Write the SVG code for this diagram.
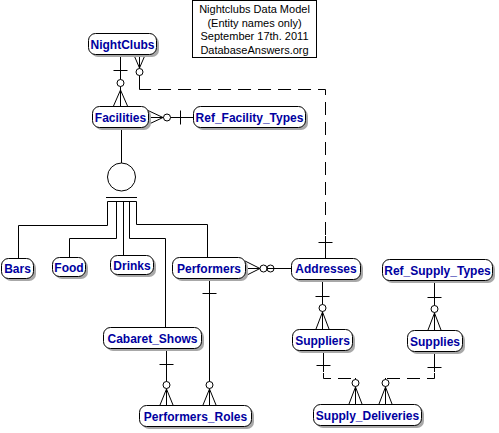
<svg xmlns="http://www.w3.org/2000/svg" width="499" height="433" viewBox="0 0 499 433">
<style>
.sh{fill:#a8a8a8;stroke:none}
.bx{fill:#fff;stroke:#000;stroke-width:1}
.t{font-family:"Liberation Sans",Arial,sans-serif;font-size:12px;font-weight:bold;fill:#0000a0;text-anchor:middle}
.ti{font-family:"Liberation Sans",Arial,sans-serif;font-size:11px;fill:#000;text-anchor:middle}
.c line,.c path,.c circle{fill:none;stroke:#000;stroke-width:1}
.c .d{stroke-dasharray:13,7}
</style>
<rect width="499" height="433" fill="#fff"/>
<g id="title">
<rect x="192.5" y="0.5" width="124" height="57" fill="#fff" stroke="#000"/>
<text class="ti" x="254.5" y="13">Nightclubs Data Model</text>
<text class="ti" x="254.5" y="27">(Entity names only)</text>
<text class="ti" x="254.5" y="40">September 17th. 2011</text>
<text class="ti" x="254.5" y="54">DatabaseAnswers.org</text>
</g>
<g id="connectors" class="c">
<line x1="120.5" y1="54" x2="120.5" y2="79.5"/>
<line x1="113.5" y1="70.5" x2="127.5" y2="70.5"/>
<circle cx="120.5" cy="83" r="3.5"/>
<line x1="120.5" y1="86.5" x2="120.5" y2="106"/>
<line x1="120.5" y1="90" x2="113.5" y2="106"/>
<line x1="120.5" y1="90" x2="127.5" y2="106"/>
<line x1="133.5" y1="54" x2="139.5" y2="68"/>
<line x1="145.5" y1="54" x2="139.5" y2="68"/>
<line x1="139.5" y1="54" x2="139.5" y2="68.5"/>
<circle cx="139.5" cy="72" r="3.5"/>
<path d="M139.5,75.5 V89.5 H151"/>
<path class="d" d="M158,89.5 H325.5 V236"/>
<line x1="325.5" y1="236" x2="325.5" y2="258"/>
<line x1="318.5" y1="242.5" x2="332.5" y2="242.5"/>
<line x1="148" y1="110.5" x2="163" y2="117.5"/>
<line x1="148" y1="124.5" x2="163" y2="117.5"/>
<line x1="148" y1="117.5" x2="163.5" y2="117.5"/>
<circle cx="167" cy="117.5" r="3.5"/>
<line x1="170.5" y1="117.5" x2="193" y2="117.5"/>
<line x1="180.5" y1="110.5" x2="180.5" y2="124.5"/>
<line x1="121.5" y1="127" x2="121.5" y2="163"/>
<circle cx="121.5" cy="177" r="14"/>
<line x1="106" y1="197.5" x2="137" y2="197.5"/>
<line x1="107.5" y1="201.5" x2="136.5" y2="201.5"/>
<path d="M107.5,201.5 V225.5 H18.5 V258"/>
<path d="M116.5,201.5 V238.5 H69.5 V257"/>
<path d="M123.5,201.5 V255"/>
<path d="M129.5,201.5 V238.5 H165.5 V327"/>
<path d="M136.5,201.5 V224.5 H207.5 V257"/>
<line x1="245" y1="261" x2="260" y2="268.5"/>
<line x1="245" y1="276" x2="260" y2="268.5"/>
<line x1="245" y1="268.5" x2="260" y2="268.5"/>
<circle cx="263.5" cy="268.5" r="3.5"/>
<line x1="267" y1="268.5" x2="291" y2="268.5"/>
<circle cx="270.5" cy="268.5" r="3.5"/>
<line x1="209.5" y1="279" x2="209.5" y2="381.5"/>
<line x1="202.5" y1="293.5" x2="216.5" y2="293.5"/>
<circle cx="209.5" cy="385" r="3.5"/>
<line x1="209.5" y1="388.5" x2="209.5" y2="405"/>
<line x1="209.5" y1="389" x2="203" y2="405"/>
<line x1="209.5" y1="389" x2="216" y2="405"/>
<line x1="166.5" y1="348" x2="166.5" y2="381.5"/>
<line x1="159.5" y1="364.5" x2="173.5" y2="364.5"/>
<circle cx="166.5" cy="385" r="3.5"/>
<line x1="166.5" y1="388.5" x2="166.5" y2="405"/>
<line x1="166.5" y1="389" x2="160" y2="405"/>
<line x1="166.5" y1="389" x2="173" y2="405"/>
<line x1="322.5" y1="279" x2="322.5" y2="304.5"/>
<line x1="315.5" y1="296.5" x2="329.5" y2="296.5"/>
<circle cx="322.5" cy="308" r="3.5"/>
<line x1="322.5" y1="311.5" x2="322.5" y2="329"/>
<line x1="322.5" y1="312" x2="316" y2="329"/>
<line x1="322.5" y1="312" x2="329" y2="329"/>
<line x1="434.5" y1="280" x2="434.5" y2="305.5"/>
<line x1="427.5" y1="297.5" x2="441.5" y2="297.5"/>
<circle cx="434.5" cy="309" r="3.5"/>
<line x1="434.5" y1="312.5" x2="434.5" y2="330"/>
<line x1="434.5" y1="313" x2="428" y2="330"/>
<line x1="434.5" y1="313" x2="441" y2="330"/>
<line x1="323.5" y1="350" x2="323.5" y2="372"/>
<line x1="316.5" y1="365.5" x2="330.5" y2="365.5"/>
<path class="d" d="M323.5,373 V378.5 H355.5"/>
<line x1="355.5" y1="378" x2="355.5" y2="379.5"/>
<circle cx="355.5" cy="383" r="3.5"/>
<line x1="355.5" y1="386.5" x2="355.5" y2="404"/>
<line x1="355.5" y1="387" x2="349" y2="404"/>
<line x1="355.5" y1="387" x2="362" y2="404"/>
<line x1="434.5" y1="351" x2="434.5" y2="372"/>
<line x1="427.5" y1="367.5" x2="441.5" y2="367.5"/>
<path class="d" d="M434.5,373 V378.5 H385.5"/>
<line x1="385.5" y1="378" x2="385.5" y2="379.5"/>
<circle cx="385.5" cy="383" r="3.5"/>
<line x1="385.5" y1="386.5" x2="385.5" y2="404"/>
<line x1="385.5" y1="387" x2="379" y2="404"/>
<line x1="385.5" y1="387" x2="392" y2="404"/>
</g>
<g id="NightClubs"><rect class="sh" x="91" y="36" width="68" height="21" rx="7"/><rect class="bx" x="88.5" y="33.5" width="68" height="21" rx="7"/><text class="t" x="122.5" y="48.5">NightClubs</text></g>
<g id="Facilities"><rect class="sh" x="95" y="109" width="56" height="21" rx="7"/><rect class="bx" x="92.5" y="106.5" width="56" height="21" rx="7"/><text class="t" x="120.5" y="121.5">Facilities</text></g>
<g id="Ref_Facility_Types"><rect class="sh" x="196" y="109" width="112" height="21" rx="7"/><rect class="bx" x="193.5" y="106.5" width="112" height="21" rx="7"/><text class="t" x="249.5" y="121.5">Ref_Facility_Types</text></g>
<g id="Bars"><rect class="sh" x="4" y="261" width="32" height="20" rx="7"/><rect class="bx" x="1.5" y="258.5" width="32" height="20" rx="7"/><text class="t" x="17.5" y="273">Bars</text></g>
<g id="Food"><rect class="sh" x="55" y="260" width="33" height="19" rx="7"/><rect class="bx" x="52.5" y="257.5" width="33" height="19" rx="7"/><text class="t" x="69" y="271.5">Food</text></g>
<g id="Drinks"><rect class="sh" x="113" y="258" width="43" height="19" rx="7"/><rect class="bx" x="110.5" y="255.5" width="43" height="19" rx="7"/><text class="t" x="132" y="269.5">Drinks</text></g>
<g id="Performers"><rect class="sh" x="175" y="260" width="73" height="21" rx="7"/><rect class="bx" x="172.5" y="257.5" width="73" height="21" rx="7"/><text class="t" x="209" y="272.5">Performers</text></g>
<g id="Addresses"><rect class="sh" x="294" y="261" width="69" height="21" rx="7"/><rect class="bx" x="291.5" y="258.5" width="69" height="21" rx="7"/><text class="t" x="326" y="273">Addresses</text></g>
<g id="Ref_Supply_Types"><rect class="sh" x="385" y="262" width="110" height="21" rx="7"/><rect class="bx" x="382.5" y="259.5" width="110" height="21" rx="7"/><text class="t" x="437.5" y="274.5">Ref_Supply_Types</text></g>
<g id="Cabaret_Shows"><rect class="sh" x="106" y="330" width="98" height="21" rx="7"/><rect class="bx" x="103.5" y="327.5" width="98" height="21" rx="7"/><text class="t" x="152.5" y="342.5">Cabaret_Shows</text></g>
<g id="Performers_Roles"><rect class="sh" x="142" y="408" width="112" height="21" rx="7"/><rect class="bx" x="139.5" y="405.5" width="112" height="21" rx="7"/><text class="t" x="195.5" y="420.5">Performers_Roles</text></g>
<g id="Suppliers"><rect class="sh" x="295" y="332" width="60" height="21" rx="7"/><rect class="bx" x="292.5" y="329.5" width="60" height="21" rx="7"/><text class="t" x="322.5" y="344.5">Suppliers</text></g>
<g id="Supplies"><rect class="sh" x="410" y="333" width="55" height="21" rx="7"/><rect class="bx" x="407.5" y="330.5" width="55" height="21" rx="7"/><text class="t" x="435" y="345.5">Supplies</text></g>
<g id="Supply_Deliveries"><rect class="sh" x="316" y="407" width="108" height="21" rx="7"/><rect class="bx" x="313.5" y="404.5" width="108" height="21" rx="7"/><text class="t" x="367.5" y="419.5">Supply_Deliveries</text></g>
</svg>
